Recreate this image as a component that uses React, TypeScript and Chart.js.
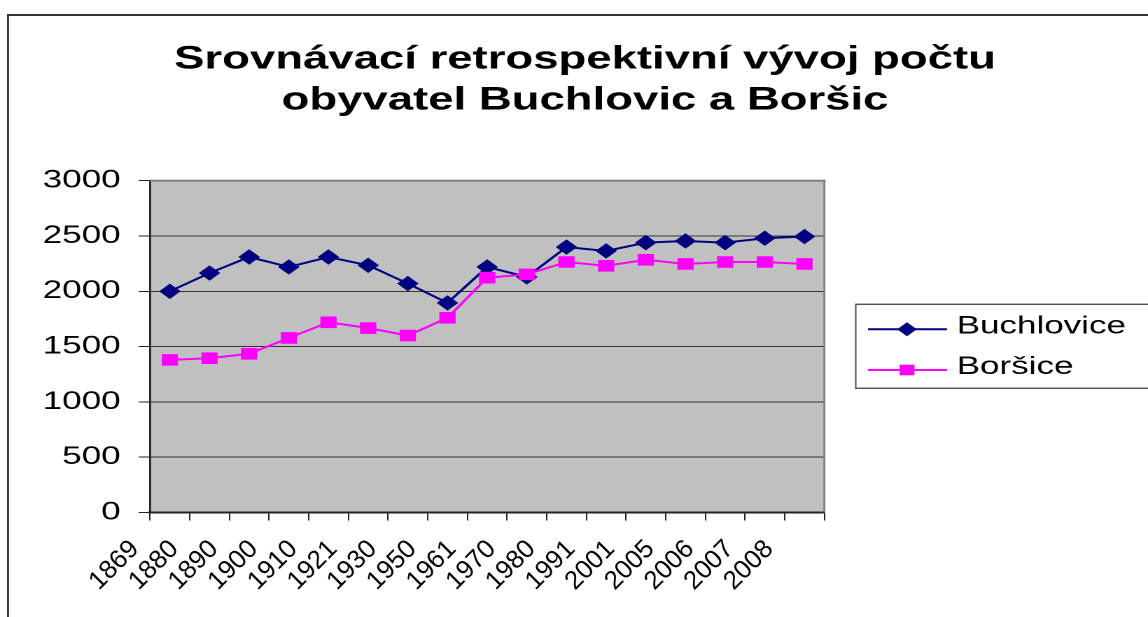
import React, { useEffect, useRef } from 'react';
import { Chart, registerables } from 'chart.js';

Chart.register(...registerables);

// ---- data ----
const categories = ['1869', '1880', '1890', '1900', '1910', '1921', '1930', '1950', '1961', '1970', '1980', '1991', '2001', '2005', '2006', '2007', '2008'];
const buchlovice = [2000, 2165, 2310, 2220, 2310, 2235, 2070, 1895, 2220, 2130, 2400, 2365, 2440, 2455, 2440, 2480, 2495];
const borsice = [1380, 1395, 1435, 1578, 1720, 1668, 1600, 1760, 2123, 2153, 2265, 2230, 2285, 2247, 2265, 2265, 2247];
const seriesNames = ['Buchlovice', 'Boršice'];
const titleLines = ['Srovnávací retrospektivní vývoj počtu', 'obyvatel Buchlovic a Boršic'];
const yMin = 0;
const yMax = 3000;
const yStep = 500;

// ---- layout (the original picture is stretched horizontally) ----
const SX = 1.4;
const W = 820;
const H = 617;
const FONT = "'Liberation Sans', Arial, Helvetica, sans-serif";

const decor = {
  id: 'decor',
  beforeDraw(chart: any) {
    const { ctx, chartArea: a } = chart;
    ctx.save();
    ctx.fillStyle = '#ffffff';
    ctx.fillRect(0, 0, W, H);
    // outer frame
    ctx.fillStyle = '#333333';
    ctx.fillRect(8 / SX - 0.7, 14, W, 2);
    ctx.fillRect(8 / SX - 0.7, 14, 1.43, H);
    // plot background
    ctx.fillStyle = '#c0c0c0';
    ctx.fillRect(a.left, a.top, a.right - a.left, a.bottom - a.top);
    ctx.restore();
  },
  beforeDatasetsDraw(chart: any) {
    const { ctx, chartArea: a } = chart;
    ctx.save();
    ctx.fillStyle = '#808080';
    ctx.fillRect(a.left, a.top - 1, a.right - a.left + 1, 2);
    ctx.fillRect(a.right - 0.7, a.top - 1, 1.43, a.bottom - a.top + 1);
    ctx.restore();
  },
  afterDraw(chart: any) {
    const { ctx } = chart;
    ctx.save();
    // title
    ctx.fillStyle = '#000000';
    ctx.font = `bold 32.5px ${FONT}`;
    ctx.textAlign = 'center';
    ctx.textBaseline = 'alphabetic';
    ctx.fillText(titleLines[0], 585 / SX, 68.5);
    ctx.fillText(titleLines[1], 585 / SX, 109.5);

    // category labels: un-stretched, rotated 45 degrees, placed from the x scale
    const xs = chart.scales.x;
    ctx.save();
    ctx.scale(1 / SX, 1);
    ctx.font = `26px ${FONT}`;
    ctx.fillStyle = '#000000';
    ctx.textAlign = 'right';
    ctx.textBaseline = 'alphabetic';
    (chart.data.labels as string[]).forEach((lab: string, i: number) => {
      const vx = xs.getPixelForTick(i) * SX - 30;
      ctx.save();
      ctx.translate(vx, 550);
      ctx.rotate(-Math.PI / 4);
      ctx.fillText(lab, 0, 0);
      ctx.restore();
    });
    ctx.restore();

    // legend box
    const lx0 = 855.7 / SX;
    const ly0 = 304.3;
    const ly1 = 388.3;
    ctx.fillStyle = '#555555';
    ctx.fillRect(lx0, ly0 - 0.75, W, 1.5);
    ctx.fillRect(lx0, ly1 - 0.75, W, 1.5);
    ctx.fillRect(lx0 - 0.5, ly0 - 0.75, 1.07, ly1 - ly0 + 1.5);

    const rows = [329.3, 370];
    chart.data.datasets.forEach((ds: any, i: number) => {
      const y = rows[i];
      ctx.strokeStyle = ds.borderColor;
      ctx.lineWidth = 2;
      ctx.beginPath();
      ctx.moveTo(868 / SX, y);
      ctx.lineTo(947 / SX, y);
      ctx.stroke();
      const cx = 907 / SX;
      const r = ds.pointRadius;
      ctx.fillStyle = ds.backgroundColor;
      ctx.beginPath();
      if (ds.pointStyle === 'rectRot') {
        ctx.moveTo(cx - r, y);
        ctx.lineTo(cx, y - r);
        ctx.lineTo(cx + r, y);
        ctx.lineTo(cx, y + r);
        ctx.closePath();
      } else {
        const h = Math.SQRT1_2 * r;
        ctx.rect(cx - h, y - h, 2 * h, 2 * h);
      }
      ctx.fill();
      ctx.fillStyle = '#000000';
      ctx.font = `25px ${FONT}`;
      ctx.textAlign = 'left';
      ctx.textBaseline = 'alphabetic';
      ctx.fillText(ds.label, 956.7 / SX, y + 4.2);
    });
    ctx.restore();
  },
};

export default function App() {
  const ref = useRef<HTMLCanvasElement>(null);

  useEffect(() => {
    if (!ref.current) return;
    const chart = new Chart(ref.current, {
      type: 'line',
      data: {
        labels: categories,
        datasets: [
          {
            label: seriesNames[0],
            data: buchlovice,
            borderColor: '#000080',
            backgroundColor: '#000080',
            pointBackgroundColor: '#000080',
            pointBorderColor: '#000080',
            borderWidth: 2,
            pointStyle: 'rectRot',
            pointRadius: 7,
            pointBorderWidth: 1,
            tension: 0,
            order: 1,
          },
          {
            label: seriesNames[1],
            data: borsice,
            borderColor: '#ff00ff',
            backgroundColor: '#ff00ff',
            pointBackgroundColor: '#ff00ff',
            pointBorderColor: '#ff00ff',
            borderWidth: 2,
            pointStyle: 'rect',
            pointRadius: 7.5,
            pointBorderWidth: 1,
            tension: 0,
            order: 0,
          },
        ],
      },
      options: {
        animation: false,
        responsive: false,
        devicePixelRatio: 2,
        layout: { padding: { left: 0, right: W - 824.3 / SX, top: 180.7, bottom: 0 } },
        plugins: {
          legend: { display: false },
          title: { display: false },
          tooltip: { enabled: false },
        },
        scales: {
          x: {
            type: 'category',
            offset: true,
            grid: {
              offset: true,
              drawOnChartArea: false,
              drawTicks: true,
              tickLength: 8,
              color: '#222222',
              lineWidth: 1,
            },
            border: { display: true, color: '#222222', width: 2 },
            ticks: {
              display: false,
              autoSkip: false,
            },
            afterFit: (s: any) => {
              s.height = H - 512.5;
            },
          },
          y: {
            min: yMin,
            max: yMax,
            ticks: {
              stepSize: yStep,
              padding: 13,
              color: '#000000',
              font: { family: FONT, size: 25 },
              callback: (v: any) => String(v),
            },
            grid: {
              color: '#333333',
              lineWidth: 1,
              tickLength: 8,
              drawTicks: true,
              tickColor: '#222222',
            },
            border: { display: true, color: '#222222', width: 1.4 },
            afterFit: (s: any) => {
              s.width = 150 / SX;
            },
          },
        },
      },
      plugins: [decor],
    });
    return () => chart.destroy();
  }, []);

  return (
    <div
      style={{
        position: 'absolute',
        left: 0,
        top: 0,
        width: W,
        height: H,
        transform: `scaleX(${SX})`,
        transformOrigin: '0 0',
      }}
    >
      <canvas ref={ref} width={W} height={H} style={{ width: W, height: H, display: 'block' }} />
    </div>
  );
}
